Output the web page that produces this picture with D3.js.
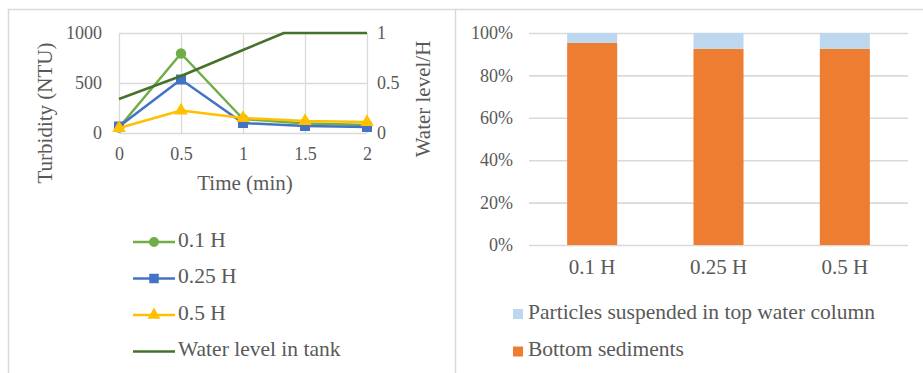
<!DOCTYPE html>
<html>
<head>
<meta charset="utf-8">
<title>Turbidity and sediments</title>
<script src="https://cdn.jsdelivr.net/npm/d3@7"></script>
<style>
  body { margin: 0; background: #fff; }
  .grid line { stroke: #d9d9d9; stroke-width: 1.3; }
  .grid path { display: none; }
  .ticks path, .ticks line { display: none; }
</style>
</head>
<body>
<script>
// ---- data ----
var times = [0, 0.5, 1, 1.5, 2];
var turb01 = [55, 795, 140, 95, 80];      // 0.1 H
var turb025 = [65, 535, 100, 70, 60];     // 0.25 H
var turb05 = [50, 225, 150, 120, 110];    // 0.5 H
var waterTime = [0, 0.5, 1, 1.33, 2];
var waterLevel = [0.34, 0.57, 0.83, 1, 1];
var yLeftTicks = [0, 500, 1000];
var yRightTicks = [0, 0.5, 1];
var xTicks = [0, 0.5, 1, 1.5, 2];

var heights = ['0.1 H', '0.25 H', '0.5 H'];
var suspended = [4.7, 7.5, 7.5];    // % in top water column
var bottomSed = [95.3, 92.5, 92.5]; // % bottom sediments
var pctTicks = [0, 20, 40, 60, 80, 100];

var W = 923, H = 373;
var FONT = '"Liberation Serif", "Times New Roman", serif';
var svg = d3.select('body').append('svg').attr('width', W).attr('height', H);

// panel frames
svg.append('rect').attr('x', 8.5).attr('y', 9.5).attr('width', 447).attr('height', 380)
  .attr('fill', 'none').attr('stroke', '#d9d9d9').attr('stroke-width', 1.5);
svg.append('line').attr('x1', 455.5).attr('x2', 923).attr('y1', 9.5).attr('y2', 9.5)
  .attr('stroke', '#d9d9d9').attr('stroke-width', 1.5);

// ================= left chart =================
var L = {left: 119, right: 367, top: 33, bottom: 133};
var x = d3.scaleLinear().domain([0, 2]).range([L.left, L.right]);
var y = d3.scaleLinear().domain([0, 1000]).range([L.bottom, L.top]);
var y2 = d3.scaleLinear().domain([0, 1]).range([L.bottom, L.top]);

svg.append('g').attr('class', 'grid')
  .attr('transform', 'translate(' + L.left + ',0)')
  .call(d3.axisLeft(y).tickValues(yLeftTicks).tickSize(-(L.right - L.left)).tickFormat(''));
svg.append('g').attr('class', 'grid')
  .attr('transform', 'translate(0,' + L.bottom + ')')
  .call(d3.axisBottom(x).tickValues(xTicks).tickSize(-(L.bottom - L.top)).tickFormat(''));

svg.append('g').attr('class', 'ticks')
  .attr('transform', 'translate(' + L.left + ',0)')
  .call(d3.axisLeft(y).tickValues(yLeftTicks).tickSize(0).tickPadding(17).tickFormat(d3.format('d')));
svg.append('g').attr('class', 'ticks')
  .attr('transform', 'translate(' + L.right + ',0)')
  .call(d3.axisRight(y2).tickValues(yRightTicks).tickSize(0).tickPadding(10).tickFormat(function(d) { return String(d); }));
svg.append('g').attr('class', 'ticks')
  .attr('transform', 'translate(0,' + L.bottom + ')')
  .call(d3.axisBottom(x).tickValues(xTicks).tickSize(0).tickPadding(14).tickFormat(function(d) { return String(d); }));
svg.selectAll('.ticks text').style('font-size', '18px');

svg.append('text').attr('transform', 'translate(47,113) rotate(-90)')
  .attr('text-anchor', 'middle').attr('dominant-baseline', 'middle')
  .style('font-size', '21px').text('Turbidity (NTU)');
svg.append('text').attr('transform', 'translate(425,99) rotate(-90)')
  .attr('text-anchor', 'middle').attr('dominant-baseline', 'middle')
  .style('font-size', '21px').text('Water level/H');
svg.append('text').attr('x', 245).attr('y', 185)
  .attr('text-anchor', 'middle').attr('dominant-baseline', 'middle')
  .style('font-size', '21px').text('Time (min)');

var series = [
  {name: '0.1 H', values: turb01, color: '#70ad47', marker: d3.symbolCircle, size: 85},
  {name: '0.25 H', values: turb025, color: '#4472c4', marker: d3.symbolSquare, size: 100},
  {name: '0.5 H', values: turb05, color: '#ffc000', marker: d3.symbolTriangle, size: 80}
];
var waterColor = '#44722b';

var line = d3.line().x(function(d) { return x(d[0]); }).y(function(d) { return y(d[1]); });

series.forEach(function(s) {
  var pts = times.map(function(t, i) { return [t, s.values[i]]; });
  svg.append('path').datum(pts).attr('d', line)
    .attr('fill', 'none').attr('stroke', s.color).attr('stroke-width', 2.5)
    .attr('stroke-linejoin', 'round');
  svg.selectAll(null).data(pts).enter().append('path')
    .attr('d', d3.symbol().type(s.marker).size(s.size))
    .attr('transform', function(d) { return 'translate(' + x(d[0]) + ',' + y(d[1]) + ')'; })
    .attr('fill', s.color);
});

var waterPts = waterTime.map(function(t, i) { return [t, waterLevel[i]]; });
svg.append('path').datum(waterPts)
  .attr('d', d3.line().x(function(d) { return x(d[0]); }).y(function(d) { return y2(d[1]); }))
  .attr('fill', 'none').attr('stroke', waterColor).attr('stroke-width', 2.5)
  .attr('stroke-linejoin', 'round');

// left legend
var legItems = series.concat([{name: 'Water level in tank', color: waterColor, marker: null}]);
var leg = svg.selectAll('g.leg').data(legItems).enter().append('g')
  .attr('class', 'leg')
  .attr('transform', function(d, i) { return 'translate(133,' + (242 + i * 36.5) + ')'; });
leg.append('line').attr('x1', 0).attr('x2', 42).attr('y1', 0).attr('y2', 0)
  .attr('stroke', function(d) { return d.color; }).attr('stroke-width', 2.5);
leg.filter(function(d) { return d.marker; }).append('path')
  .attr('d', function(d) { return d3.symbol().type(d.marker).size(d.size * 0.9)(); })
  .attr('transform', 'translate(21,0)')
  .attr('fill', function(d) { return d.color; });
leg.append('text').attr('x', 45).attr('y', 0).attr('dominant-baseline', 'middle')
  .style('font-size', '21.5px').text(function(d) { return d.name; });

// ================= right chart =================
var R = {left: 529, right: 908, top: 33, bottom: 245};
var xb = d3.scaleBand().domain(heights).range([R.left, R.right]).paddingInner(0.604).paddingOuter(0.302);
var yb = d3.scaleLinear().domain([0, 100]).range([R.bottom, R.top]);

svg.append('g').attr('class', 'grid')
  .attr('transform', 'translate(' + R.left + ',0)')
  .call(d3.axisLeft(yb).tickValues(pctTicks).tickSize(-(R.right - R.left)).tickFormat(''))
  .selectAll('line').style('stroke-width', 1.6);

svg.append('g').attr('class', 'ticks')
  .attr('transform', 'translate(' + R.left + ',0)')
  .call(d3.axisLeft(yb).tickValues(pctTicks).tickSize(0).tickPadding(16).tickFormat(function(d) { return d + '%'; }))
  .selectAll('text').style('font-size', '18px');
svg.append('g').attr('class', 'ticks')
  .attr('transform', 'translate(0,' + R.bottom + ')')
  .call(d3.axisBottom(xb).tickSize(0).tickPadding(14))
  .selectAll('text').style('font-size', '21px');

var stackData = heights.map(function(h, i) { return {cat: h, bottom: bottomSed[i], top: suspended[i]}; });
var stack = d3.stack().keys(['bottom', 'top'])(stackData);
var barColors = {bottom: '#ed7d31', top: '#bdd7ee'};

svg.selectAll('g.layer').data(stack).enter().append('g').attr('class', 'layer')
  .attr('fill', function(d) { return barColors[d.key]; })
  .selectAll('rect').data(function(d) { return d; }).enter().append('rect')
  .attr('x', function(d) { return xb(d.data.cat); })
  .attr('width', xb.bandwidth())
  .attr('y', function(d) { return yb(Math.min(d[1], 100)); })
  .attr('height', function(d) { return yb(d[0]) - yb(Math.min(d[1], 100)); });

var rLeg = [
  {name: 'Particles suspended in top water column', color: barColors.top},
  {name: 'Bottom sediments', color: barColors.bottom}
];
var rl = svg.selectAll('g.rleg').data(rLeg).enter().append('g').attr('class', 'rleg')
  .attr('transform', function(d, i) { return 'translate(513,' + (314 + i * 37.5) + ')'; });
rl.append('rect').attr('x', 0).attr('y', -5).attr('width', 10).attr('height', 10)
  .attr('fill', function(d) { return d.color; });
rl.append('text').attr('x', 15).attr('y', 0).attr('dominant-baseline', 'middle')
  .style('font-size', '21.5px').text(function(d) { return d.name; });

// same serif face and grey for every label
svg.selectAll('text').style('font-family', FONT).attr('fill', '#595959');
</script>
</body>
</html>
